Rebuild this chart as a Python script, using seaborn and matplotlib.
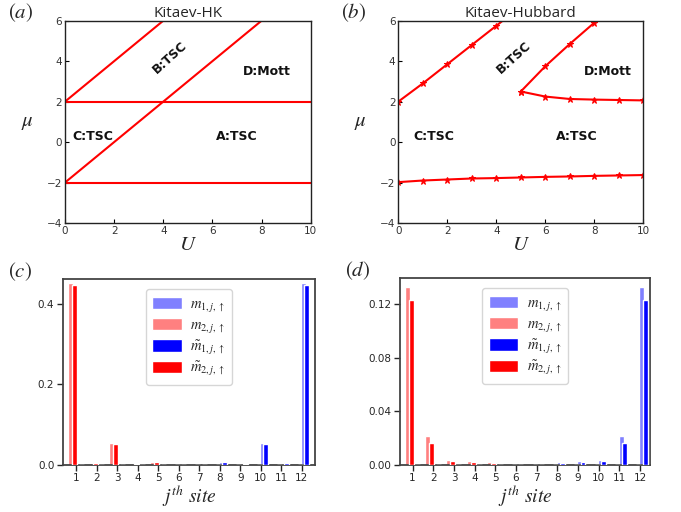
import numpy as np
import seaborn as sns
import matplotlib
import matplotlib.pyplot as plt

matplotlib.use('Agg')

# phase boundaries, Kitaev-HK (panel a)
hk_u = [0, 10]
hk_mu_low = [-2, -2]
hk_mu_mid = [2, 2]
hk_diag_u = [0, 4, 8]
hk_diag_mu = [-2, 2, 6]
hk_top_u = [0, 4]
hk_top_mu = [2, 6]

# phase boundaries, Kitaev-Hubbard (panel b)
kh_u1 = [0, 1, 2, 3, 4, 5]
kh_mu1 = [2.0, 2.9, 3.85, 4.8, 5.75, 6.7]
kh_u2 = [5, 6, 7, 8, 9]
kh_mu2 = [2.5, 3.75, 4.85, 5.9, 7.0]
kh_u3 = [5, 6, 7, 8, 9, 10]
kh_mu3 = [2.5, 2.25, 2.13, 2.1, 2.08, 2.06]
kh_u4 = [0, 1, 2, 3, 4, 5, 6, 7, 8, 9, 10]
kh_mu4 = [-1.98, -1.9, -1.85, -1.8, -1.78, -1.75, -1.72, -1.7, -1.67, -1.65, -1.63]

sites = [1, 2, 3, 4, 5, 6, 7, 8, 9, 10, 11, 12]

# panel c (Kitaev-HK)
c_m1 = [0.001, 0.001, 0.001, 0.001, 0.001, 0.001, 0.001, 0.007, 0.002, 0.055, 0.004, 0.451]
c_m2 = [0.451, 0.004, 0.055, 0.002, 0.007, 0.001, 0.001, 0.001, 0.001, 0.001, 0.001, 0.001]
c_tm1 = [0.001, 0.001, 0.001, 0.001, 0.001, 0.001, 0.001, 0.007, 0.002, 0.052, 0.004, 0.447]
c_tm2 = [0.447, 0.004, 0.052, 0.002, 0.007, 0.001, 0.001, 0.001, 0.001, 0.001, 0.001, 0.001]

# panel d (Kitaev-Hubbard)
d_m1 = [0.0003, 0.0003, 0.0003, 0.0003, 0.0003, 0.0003, 0.0003, 0.0021, 0.003, 0.0037, 0.0216, 0.1324]
d_m2 = [0.1324, 0.0216, 0.0037, 0.003, 0.0021, 0.0003, 0.0003, 0.0003, 0.0003, 0.0003, 0.0003, 0.0003]
d_tm1 = [0.0003, 0.0003, 0.0003, 0.0003, 0.0003, 0.0003, 0.0003, 0.0013, 0.0023, 0.003, 0.0166, 0.123]
d_tm2 = [0.123, 0.0166, 0.003, 0.0023, 0.0013, 0.0003, 0.0003, 0.0003, 0.0003, 0.0003, 0.0003, 0.0003]

labels = [r'$m_{1,j,\uparrow}$', r'$m_{2,j,\uparrow}$',
          r'$\tilde{m}_{1,j,\uparrow}$', r'$\tilde{m}_{2,j,\uparrow}$']

sns.set_style("ticks")
plt.rcParams['font.family'] = ['DejaVu Sans']
plt.rcParams['mathtext.fontset'] = 'stix'

W, H = 681, 512
fig = plt.figure(figsize=(W / 100, H / 100), dpi=100)


def rect(l, t, r, b):
    return [l / W, 1 - b / H, (r - l) / W, (b - t) / H]


def region(ax, x, y, s, rot=0):
    ax.text(x, y, s, rotation=rot, fontsize=9, fontweight='bold', ha='center', va='center',
            family='DejaVu Sans', color='#111111')


def phase_axes(ax, title, tag):
    ax.set_xlim(0, 10)
    ax.set_ylim(-4, 6)
    ax.set_xticks([0, 2, 4, 6, 8, 10])
    ax.set_yticks([-4, -2, 0, 2, 4, 6])
    ax.tick_params(direction='in', length=3, width=0.8, labelsize=7.5, pad=2, colors='black')
    ax.tick_params(axis='both', labelcolor='#333333')
    for s in ax.spines.values():
        s.set_visible(True)
        s.set_color('#222222')
        s.set_linewidth(1.0)
    ax.set_xlabel('$U$', fontsize=15, labelpad=-1)
    ax.set_ylabel(r'$\mu$', fontsize=15, rotation=0, labelpad=14, va='center')
    ax.set_title(title, fontsize=11, family='Open Sans', pad=2)
    ax.text(-0.13, 1.04, tag, transform=ax.transAxes, fontsize=15, ha='right', va='center')


def bar_axes(ax, m1, m2, tm1, tm2, ylim, yticks, ylabels, tag, xlim):
    x = np.array(sites)
    w = 0.24
    ax.bar(x + 0.09, m1, width=w, color='#8080ff', label=labels[0], zorder=2)
    ax.bar(x - 0.26, m2, width=w, color='#ff8080', label=labels[1], zorder=2)
    ax.bar(x + 0.24, tm1, width=w, color='#0000ff', label=labels[2], zorder=3)
    ax.bar(x - 0.07, tm2, width=w, color='#ff0000', label=labels[3], zorder=3)
    ax.set_xlim(*xlim)
    ax.set_ylim(*ylim)
    ax.set_xticks(sites)
    ax.set_yticks(yticks)
    ax.set_yticklabels(ylabels)
    ax.tick_params(labelsize=7.5, length=4, width=1, pad=2)
    for s in ax.spines.values():
        s.set_visible(True)
        s.set_color('#444444')
        s.set_linewidth(1.3)
    ax.set_xlabel(r'$j^{th}\ site$', fontsize=14, labelpad=0)
    ax.legend(loc='upper center', bbox_to_anchor=(0.5, 0.985), fontsize=10.5,
              handlelength=2.0, handleheight=0.9, labelspacing=0.2,
              handletextpad=0.6, borderpad=0.45)
    ax.text(-0.12, 1.04, tag, transform=ax.transAxes, fontsize=15, ha='right', va='center')


# (a) Kitaev-HK
ax_a = fig.add_axes(rect(65, 20.7, 310.7, 223))
for xs, ys in [(hk_u, hk_mu_low), (hk_u, hk_mu_mid), (hk_diag_u, hk_diag_mu), (hk_top_u, hk_top_mu)]:
    sns.lineplot(x=xs, y=ys, ax=ax_a, color='red', lw=1.5)
phase_axes(ax_a, 'Kitaev-HK', '$(a)$')
region(ax_a, 4.27, 4.16, 'B:TSC', rot=42)
region(ax_a, 8.2, 3.5, 'D:Mott')
region(ax_a, 1.15, 0.3, 'C:TSC')
region(ax_a, 7.0, 0.3, 'A:TSC')

# (b) Kitaev-Hubbard
ax_b = fig.add_axes(rect(398.3, 20.7, 643.3, 223))
for xs, ys in [(kh_u1, kh_mu1), (kh_u2, kh_mu2), (kh_u3, kh_mu3), (kh_u4, kh_mu4)]:
    sns.lineplot(x=xs, y=ys, ax=ax_b, color='red', lw=1.5, marker='*', markersize=5,
                 markeredgecolor='red')
phase_axes(ax_b, 'Kitaev-Hubbard', '$(b)$')
region(ax_b, 4.7, 4.16, 'B:TSC', rot=42)
region(ax_b, 8.57, 3.5, 'D:Mott')
region(ax_b, 1.43, 0.3, 'C:TSC')
region(ax_b, 7.3, 0.3, 'A:TSC')

# (c) and (d) site distributions
ax_c = fig.add_axes(rect(62.7, 279.3, 315, 465))
bar_axes(ax_c, c_m1, c_m2, c_tm1, c_tm2, (0, 0.46), [0, 0.2, 0.4], ['0.0', '0.2', '0.4'], '$(c)$', (0.34, 12.65))

ax_d = fig.add_axes(rect(400, 278.3, 650, 465))
bar_axes(ax_d, d_m1, d_m2, d_tm1, d_tm2, (0, 0.139), [0, 0.04, 0.08, 0.12],
         ['0.00', '0.04', '0.08', '0.12'], '$(d)$', (0.39, 12.48))

fig.savefig('out.png', dpi=100)
